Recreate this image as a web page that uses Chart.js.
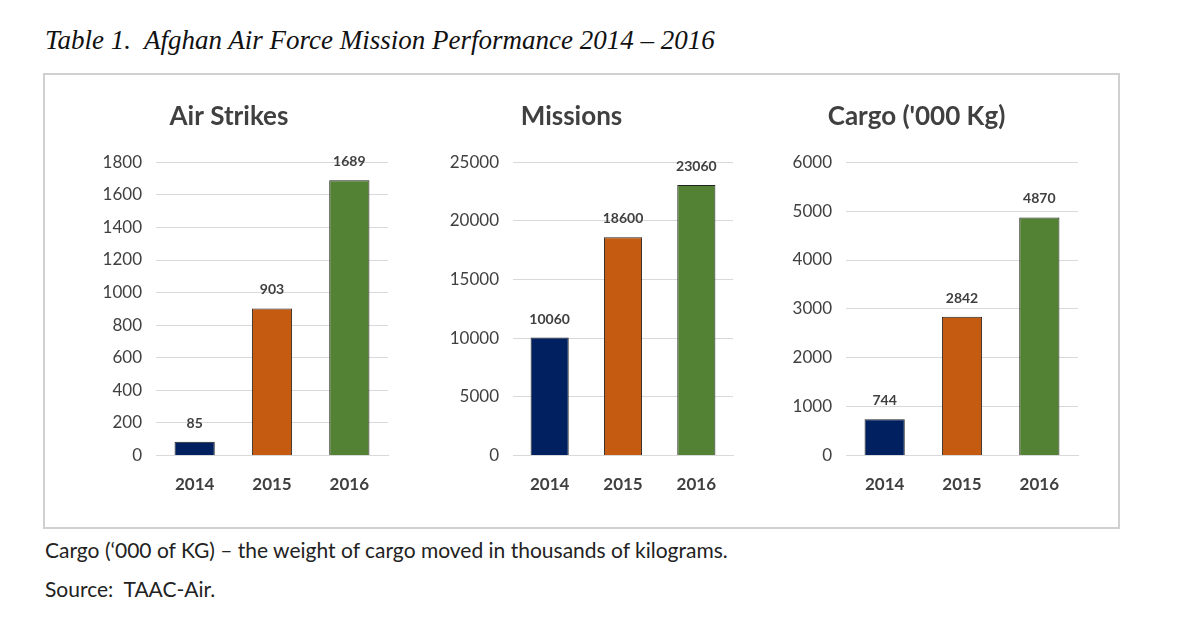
<!DOCTYPE html>
<html><head><meta charset="utf-8">
<script src="https://cdn.jsdelivr.net/npm/chart.js@4/dist/chart.umd.min.js"></script>
<style>
body{margin:0;background:#fff;width:1200px;height:628px;position:relative;font-family:Lato,"Open Sans",sans-serif;}
#t{position:absolute;left:45px;top:25px;font:italic 27px "Liberation Serif",serif;color:#111;}
#box{position:absolute;left:43px;top:73px;width:1073px;height:452px;border:2px solid #d0d0d0;}
.c{position:absolute;top:88px;height:425px;}
.f{position:absolute;left:45px;font-size:21px;color:#222;}
</style></head><body>
<div id="t">Table 1.&nbsp; Afghan Air Force Mission Performance 2014 – 2016</div>
<div id="box"></div>
<div class="c" style="left:70px;width:330px"><canvas id="c1"></canvas></div>
<div class="c" style="left:410px;width:335px"><canvas id="c2"></canvas></div>
<div class="c" style="left:755px;width:335px"><canvas id="c3"></canvas></div>
<div class="f" style="top:537px">Cargo (‘000 of KG) – the weight of cargo moved in thousands of kilograms.</div>
<div class="f" style="top:576px">Source:&nbsp; TAAC-Air.</div>
<script>
const years=['2014','2015','2016'];
const airStrikes=[85,903,1689];
const missions=[10060,18600,23060];
const cargo=[744,2842,4870];
const colors=['#002060','#C55A11','#548235'];
const lbl={id:'lbl',afterDatasetsDraw(ch){const c=ch.ctx;c.save();c.font='bold 14px Lato, sans-serif';c.fillStyle='#404040';c.textAlign='center';
ch.getDatasetMeta(0).data.forEach((b,i)=>{c.fillText(ch.data.datasets[0].data[i],b.x,b.y-14);});c.restore();}};
function mk(id,title,data,max,step,w){
new Chart(document.getElementById(id),{type:'bar',data:{labels:years,datasets:[{data,backgroundColor:colors,borderColor:'#222',borderWidth:1,categoryPercentage:1,barPercentage:0.52}]},
options:{responsive:true,maintainAspectRatio:false,animation:false,layout:{padding:{top:9,right:12,bottom:7}},
plugins:{legend:{display:false},tooltip:{enabled:false},title:{display:true,text:title,color:'#404040',font:{size:26,weight:'bold',family:'Lato'},padding:{top:4,bottom:30}}},
scales:{x:{grid:{display:false},border:{color:'#d9d9d9'},ticks:{color:'#404040',font:{size:17,weight:'bold',family:'Lato'},padding:11}},
y:{min:0,max,ticks:{stepSize:step,color:'#404040',font:{size:17,family:'Lato'},padding:14,callback:v=>String(v)},afterFit(s){s.width=w;},grid:{color:'#d9d9d9',drawTicks:false},border:{display:false}}}},plugins:[lbl]});}
mk('c1','Air Strikes',airStrikes,1800,200,86);
mk('c2','Missions',missions,25000,5000,103);
mk('c3','Cargo (\'000 Kg)',cargo,6000,1000,91);
</script></body></html>
